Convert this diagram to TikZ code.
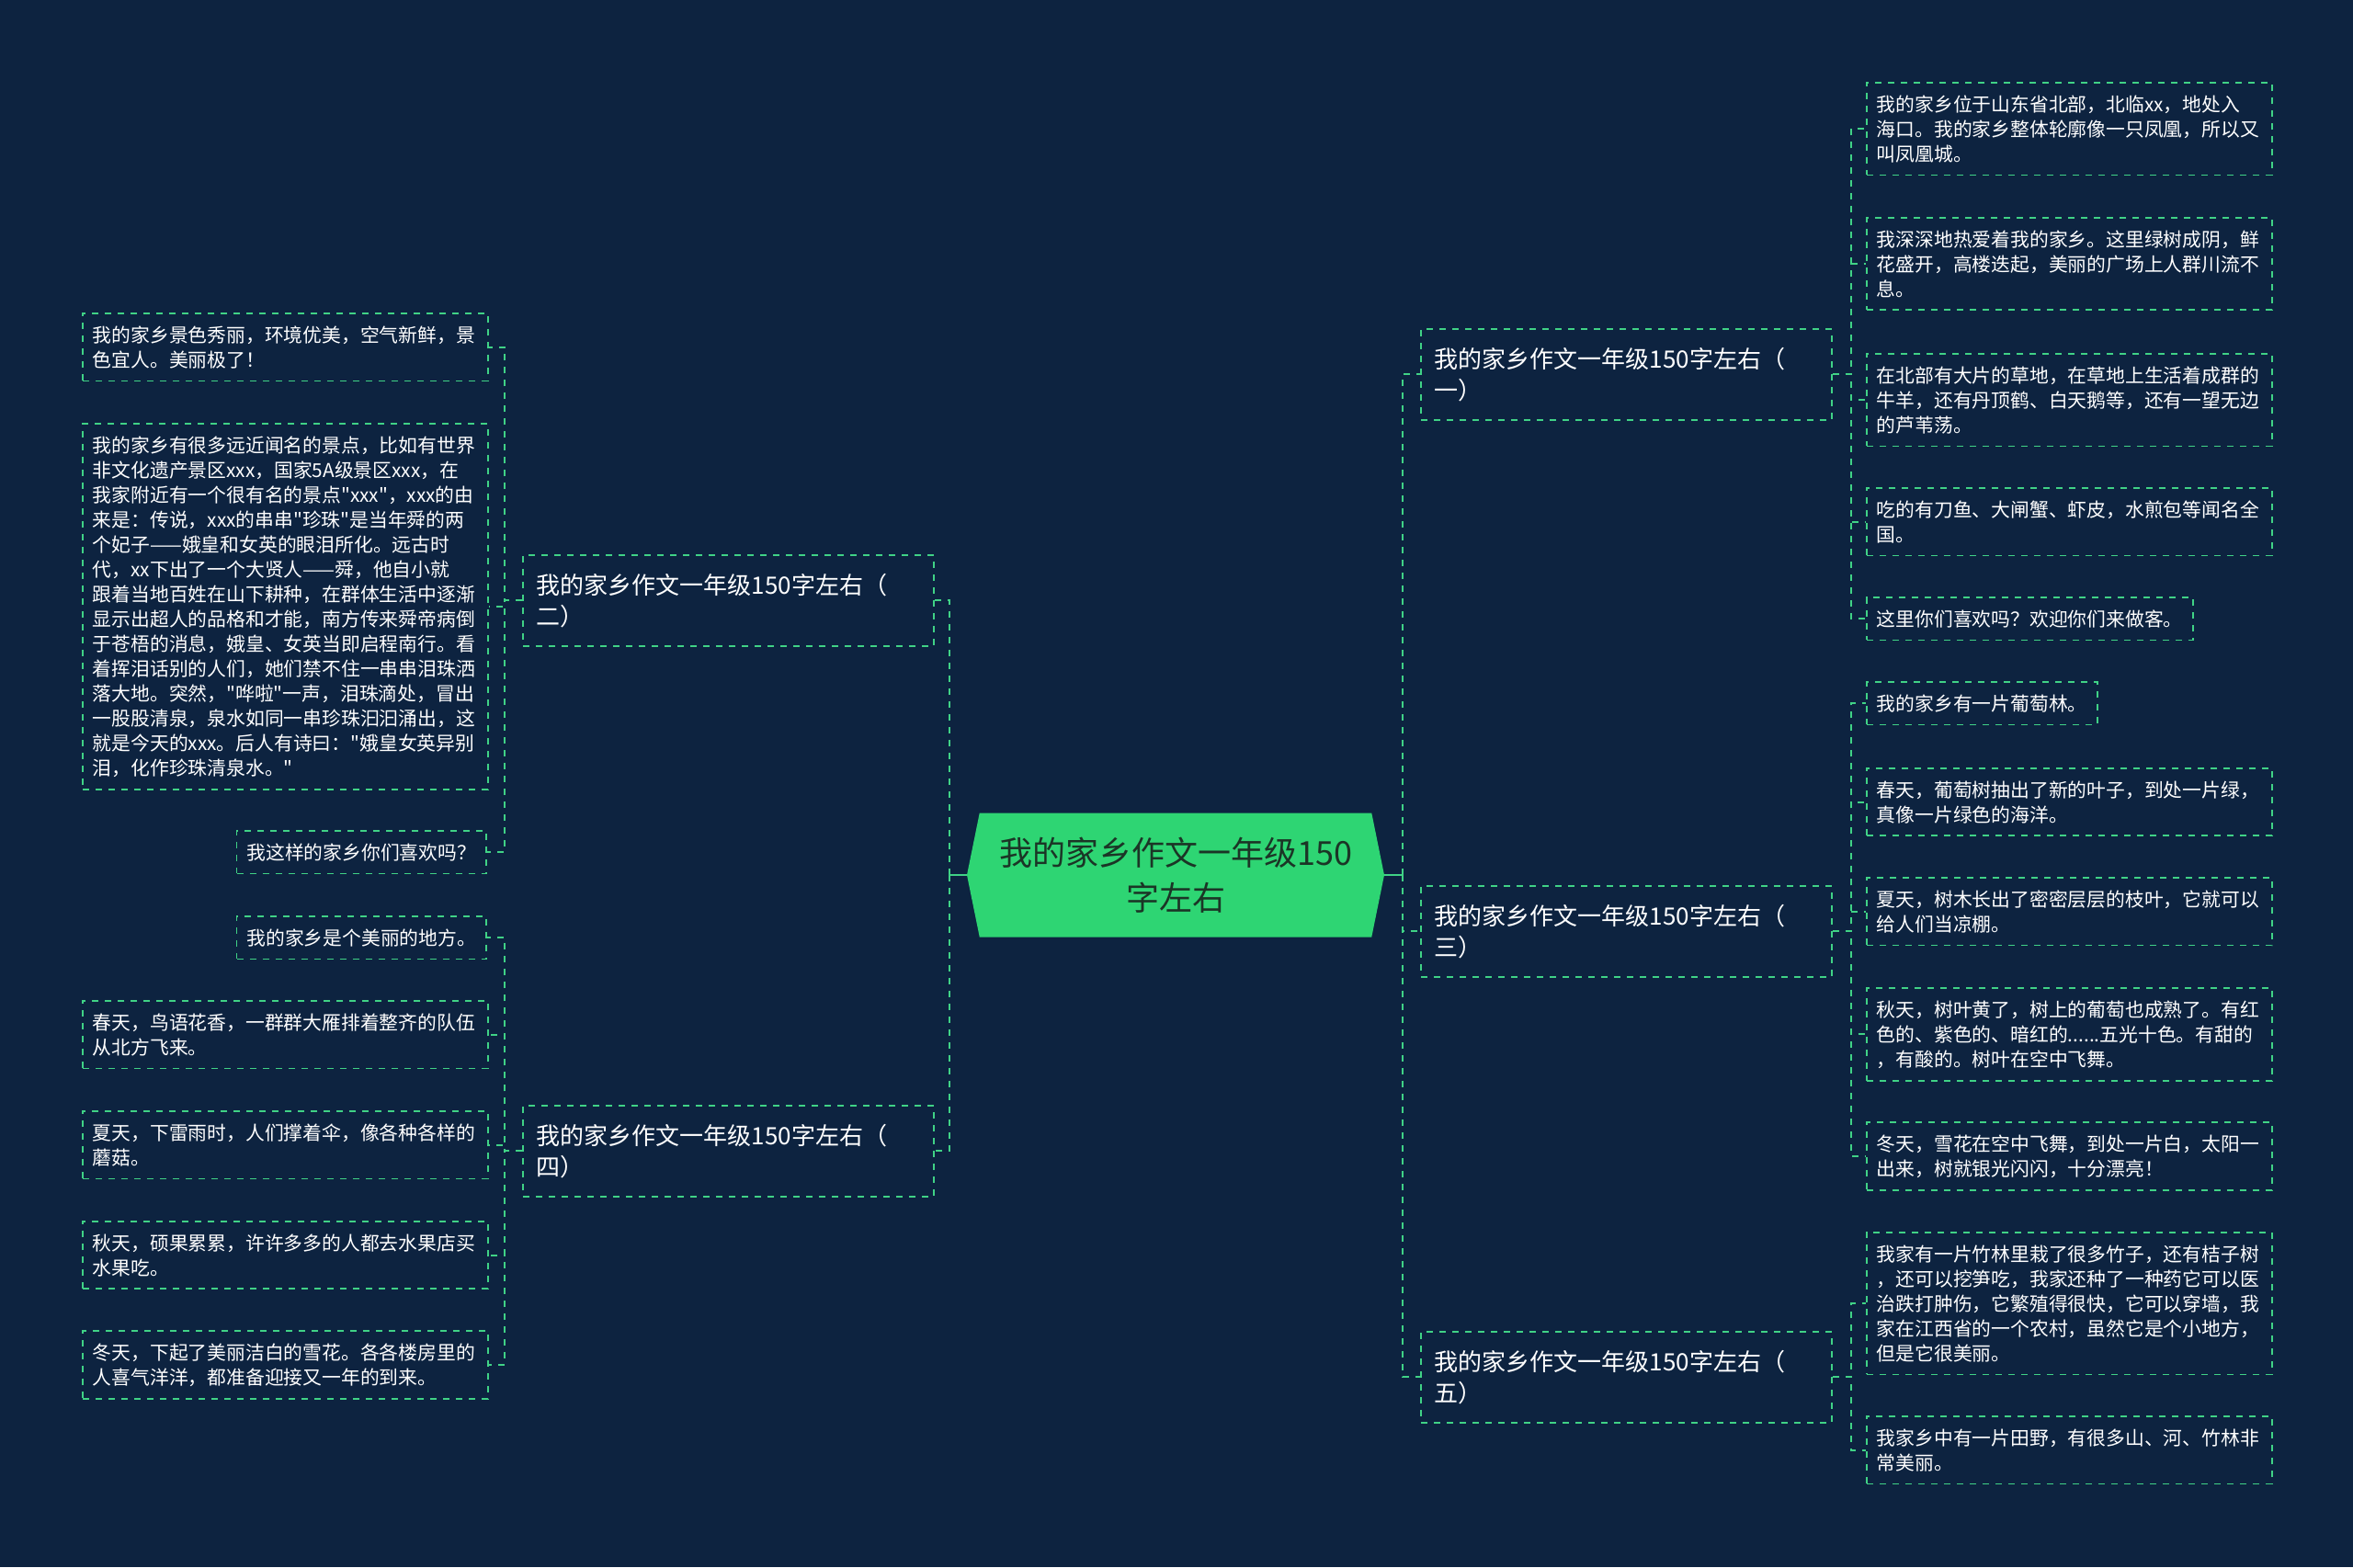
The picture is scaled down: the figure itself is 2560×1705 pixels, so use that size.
\documentclass[tikz,border=0pt]{standalone}
\usepackage{fontspec}
\setmainfont{Noto Sans CJK SC}[Ligatures=TeXOff]
\usepackage{tikz}
\usetikzlibrary{shapes.symbols}
\definecolor{nightblue}{HTML}{0D2340}
\definecolor{leafgreen}{HTML}{2ED573}
\definecolor{linegreen}{HTML}{40D286}
\definecolor{deepgreen}{HTML}{1B3526}

\begin{document}
\begin{tikzpicture}[x=0.5pt,y=-0.5pt,
  root/.style={shape=signal, signal to=west and east, signal pointer angle=157,
    fill=leafgreen, text=deepgreen, minimum width=227pt, minimum height=67.5pt,
    inner sep=0pt, align=center, font=\fontsize{18}{24.5}\selectfont},
  topic/.style={draw=linegreen, dash pattern=on 3.5pt off 3.5pt, line width=0.9pt,
    text=white, anchor=north west, text width=208.5pt, inner xsep=7.5pt,
    inner ysep=10pt, align=left, font=\fontsize{13}{17}\selectfont},
  leaf/.style={draw=linegreen, dash pattern=on 3.5pt off 3.5pt, line width=0.9pt,
    text=white, inner xsep=5.5pt, inner ysep=6.8pt, align=left,
    font=\fontsize{10.4}{13.5}\selectfont},
  wide/.style={leaf, text width=209.5pt, anchor=north west},
  link/.style={draw=linegreen, line width=1pt, dash pattern=on 3.5pt off 3.5pt},
  stub/.style={draw=linegreen, line width=1.3pt}]

\fill[nightblue] (0,0) rectangle (2560,1705);
\useasboundingbox (0,0) rectangle (2560,1705);

% centre and topics
\node[root] (ctr) at (1279,952) {我的家乡作文一年级150\\字左右};
\node[topic] (t1) at (1545,357) {我的家乡作文一年级150字左右（\\一）};
\node[topic] (t2) at (568,603) {我的家乡作文一年级150字左右（\\二）};
\node[topic] (t3) at (1545,963) {我的家乡作文一年级150字左右（\\三）};
\node[topic] (t4) at (568,1202) {我的家乡作文一年级150字左右（\\四）};
\node[topic] (t5) at (1545,1448) {我的家乡作文一年级150字左右（\\五）};

% leaves of (二)
\node[wide] (l1) at (89,340) {我的家乡景色秀丽，环境优美，空气新鲜，景\\色宜人。美丽极了！};
\node[wide] (l2) at (89,460) {我的家乡有很多远近闻名的景点，比如有世界\\非文化遗产景区xxx，国家5A级景区xxx，在\\我家附近有一个很有名的景点"xxx"，xxx的由\\来是：传说，xxx的串串"珍珠"是当年舜的两\\个妃子——娥皇和女英的眼泪所化。远古时\\代，xx下出了一个大贤人——舜，他自小就\\跟着当地百姓在山下耕种，在群体生活中逐渐\\显示出超人的品格和才能，南方传来舜帝病倒\\于苍梧的消息，娥皇、女英当即启程南行。看\\着挥泪话别的人们，她们禁不住一串串泪珠洒\\落大地。突然，"哗啦"一声，泪珠滴处，冒出\\一股股清泉，泉水如同一串珍珠汩汩涌出，这\\就是今天的xxx。后人有诗曰："娥皇女英异别\\泪，化作珍珠清泉水。"};
\node[leaf, anchor=north east] (l3) at (530,903) {我这样的家乡你们喜欢吗？};

% leaves of (四)
\node[leaf, anchor=north east] (l4) at (530,996) {我的家乡是个美丽的地方。};
\node[wide] (l5) at (89,1088) {春天，鸟语花香，一群群大雁排着整齐的队伍\\从北方飞来。};
\node[wide] (l6) at (89,1208) {夏天，下雷雨时，人们撑着伞，像各种各样的\\蘑菇。};
\node[wide] (l7) at (89,1328) {秋天，硕果累累，许许多多的人都去水果店买\\水果吃。};
\node[wide] (l8) at (89,1447) {冬天，下起了美丽洁白的雪花。各各楼房里的\\人喜气洋洋，都准备迎接又一年的到来。};

% leaves of (一)
\node[wide] (r1) at (2030,89) {我的家乡位于山东省北部，北临xx，地处入\\海口。我的家乡整体轮廓像一只凤凰，所以又\\叫凤凰城。};
\node[wide] (r2) at (2030,236) {我深深地热爱着我的家乡。这里绿树成阴，鲜\\花盛开，高楼迭起，美丽的广场上人群川流不\\息。};
\node[wide] (r3) at (2030,384) {在北部有大片的草地，在草地上生活着成群的\\牛羊，还有丹顶鹤、白天鹅等，还有一望无边\\的芦苇荡。};
\node[wide] (r4) at (2030,530) {吃的有刀鱼、大闸蟹、虾皮，水煎包等闻名全\\国。};
\node[leaf, anchor=north west] (r5) at (2030,649) {这里你们喜欢吗？欢迎你们来做客。};

% leaves of (三)
\node[leaf, anchor=north west] (r6) at (2030,741) {我的家乡有一片葡萄林。};
\node[wide] (r7) at (2030,835) {春天，葡萄树抽出了新的叶子，到处一片绿，\\真像一片绿色的海洋。};
\node[wide] (r8) at (2030,954) {夏天，树木长出了密密层层的枝叶，它就可以\\给人们当凉棚。};
\node[wide] (r9) at (2030,1074) {秋天，树叶黄了，树上的葡萄也成熟了。有红\\色的、紫色的、暗红的......五光十色。有甜的\\，有酸的。树叶在空中飞舞。};
\node[wide] (r10) at (2030,1220) {冬天，雪花在空中飞舞，到处一片白，太阳一\\出来，树就银光闪闪，十分漂亮！};

% leaves of (五)
\node[wide] (r11) at (2030,1340) {我家有一片竹林里栽了很多竹子，还有桔子树\\，还可以挖笋吃，我家还种了一种药它可以医\\治跌打肿伤，它繁殖得很快，它可以穿墙，我\\家在江西省的一个农村，虽然它是个小地方，\\但是它很美丽。};
\node[wide] (r12) at (2030,1540) {我家乡中有一片田野，有很多山、河、竹林非\\常美丽。};

% connectors
\coordinate (jl) at (1033,952);
\coordinate (jr) at (1526,952);
\draw[stub] (ctr.west) -- (jl);
\draw[stub] (ctr.east) -- (jr);
\foreach \t in {t2,t4} \draw[link] (jl) |- (\t.east);
\foreach \t in {t1,t3,t5} \draw[link] (jr) |- (\t.west);

\foreach \l in {l1,l2,l3} \draw[link] (t2.west) -- ++(-19,0) |- (\l.east);
\foreach \l in {l4,l5,l6,l7,l8} \draw[link] (t4.west) -- ++(-19,0) |- (\l.east);
\foreach \r in {r1,r2,r3,r4,r5} \draw[link] (t1.east) -- ++(20,0) |- (\r.west);
\foreach \r in {r6,r7,r8,r9,r10} \draw[link] (t3.east) -- ++(20,0) |- (\r.west);
\foreach \r in {r11,r12} \draw[link] (t5.east) -- ++(20,0) |- (\r.west);
\end{tikzpicture}
\end{document}
